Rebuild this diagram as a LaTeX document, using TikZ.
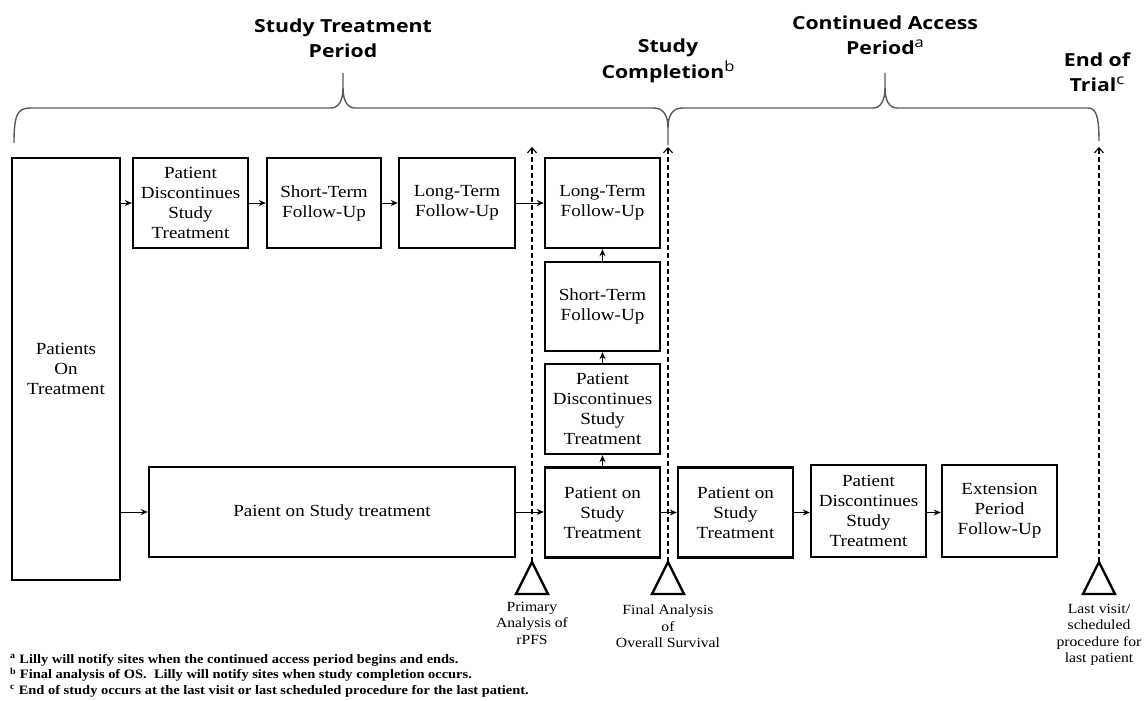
\documentclass[tikz,border=0pt]{standalone}
\usepackage{fontspec}
\setmainfont{Liberation Serif}[FakeStretch=1.12]
\newfontfamily\hdfont{Open Sans}[FakeStretch=1.18]
\usetikzlibrary{arrows.meta}
\newcommand{\supl}[1]{\raisebox{7pt}{\mdseries\fontsize{14}{14}\selectfont #1}}
\begin{document}
\begin{tikzpicture}[x=1pt,y=-1pt,
 box/.style={draw, line width=2.4pt, inner sep=0pt, align=center, font=\fontsize{17}{20}\selectfont},
 arr/.style={line width=1pt, -{Stealth[length=7pt,width=6pt]}},
 dasharr/.style={line width=1.1pt, dash pattern=on 5pt off 3pt, -{Straight Barb[length=5pt,width=9pt]}},
 tri/.style={line width=2.4pt, line join=miter},
 brace/.style={line width=1.4pt, draw=black!65},
 hd/.style={font=\hdfont\bfseries\fontsize{18}{25}\selectfont, align=center, inner sep=0pt},
 lab/.style={font=\fontsize{14}{16.5}\selectfont, align=center, inner sep=0pt},
]
\useasboundingbox (0,0) rectangle (1144,701);

% boxes
\node[box, minimum width=108pt, minimum height=422pt] (pot) at (66,369) {Patients\\On\\Treatment};
\node[box, minimum width=115pt, minimum height=90pt] (pd1) at (190.5,203) {Patient\\Discontinues\\Study\\Treatment};
\node[box, minimum width=114pt, minimum height=90pt] (st1) at (324,203) {Short-Term\\Follow-Up};
\node[box, minimum width=116pt, minimum height=90pt] (lt1) at (457,203) {Long-Term\\Follow-Up};
\node[box, minimum width=115pt, minimum height=90pt] (lt2) at (602.5,203) {Long-Term\\Follow-Up};
\node[box, minimum width=115pt, minimum height=89pt] (st2) at (602.5,306.5) {Short-Term\\Follow-Up};
\node[box, minimum width=115pt, minimum height=90pt] (pd2) at (602.5,409) {Patient\\Discontinues\\Study\\Treatment};
\node[box, minimum width=115pt, minimum height=90pt] (ps2) at (602.5,512.5) {Patient on\\Study\\Treatment};
\node[box, minimum width=366pt, minimum height=90pt] (ps1) at (332,512) {Paient on Study treatment};
\node[box, minimum width=115pt, minimum height=90pt] (ps3) at (735.5,512.5) {Patient on\\Study\\Treatment};
\node[box, minimum width=115pt, minimum height=92pt] (pd3) at (868.5,511) {Patient\\Discontinues\\Study\\Treatment};
\node[box, minimum width=115pt, minimum height=92pt] (ext) at (999.5,511) {Extension\\Period\\Follow-Up};

% arrows
\draw[arr] (pot.east |- pd1.west) -- (pd1.west);
\draw[arr] (pd1) -- (st1);
\draw[arr] (st1) -- (lt1);
\draw[arr] (lt1) -- (lt2);
\draw[arr] (pot.east |- ps1.west) -- (ps1.west);
\draw[arr] (ps1.east) -- (ps1.east -| ps2.west);
\draw[arr] (ps2) -- (pd2);
\draw[arr] (pd2) -- (st2);
\draw[arr] (st2) -- (lt2);
\draw[arr] (ps2.east) -- (ps2.east -| ps3.west);
\draw[arr] (ps3.east) -- (ps3.east -| pd3.west);
\draw[arr] (pd3.east |- ps3.east) -- (ps3.east -| ext.west);

% milestones
\coordinate (t1) at (532,562); \coordinate (t1top) at (532,147);
\coordinate (t2) at (668,562); \coordinate (t2top) at (668,147);
\coordinate (t3) at (1099,562); \coordinate (t3top) at (1099,147);
\draw[dasharr] (t1) -- (t1top);
\draw[dasharr] (t2) -- (t2top);
\draw[dasharr] (t3) -- (t3top);
\draw[tri] (t1) -- ++(16,32) -- ++(-32,0) -- cycle;
\draw[tri] (t2) -- ++(16,32) -- ++(-32,0) -- cycle;
\draw[tri] (t3) -- ++(16,32) -- ++(-32,0) -- cycle;
\node[lab, anchor=north] (l1) at (532,602) {Primary\\Analysis of\\rPFS};
\node[lab, anchor=north] (l2) at (668,605) {Final Analysis\\of\\Overall Survival};
\node[lab, anchor=north] (l3) at (1099,604) {Last visit/\\scheduled\\procedure for\\last patient};

% braces
\draw[brace] (14,143) .. controls (14,116) and (17,108) .. (30,108) -- (331,108)
  .. controls (339,108) and (343,100) .. (343,88) -- (343,73);
\draw[brace] (343,88) .. controls (343,100) and (347,108) .. (355,108) -- (654,108)
  .. controls (663,108) and (668,115) .. (668,128) -- (668,145);
\draw[brace] (668,128) .. controls (668,115) and (673,108) .. (682,108) -- (873,108)
  .. controls (881,108) and (885,100) .. (885,88) -- (885,73);
\draw[brace] (885,88) .. controls (885,100) and (889,108) .. (897,108) -- (1088,108)
  .. controls (1096,108) and (1099,116) .. (1099,141);

% headings (anchor base = baseline of last line)
\node[hd, anchor=base] (h1) at (343,58) {Study Treatment\\Period};
\node[hd, anchor=base] (h2) at (668,78) {Study\\Completion\supl{b}};
\node[hd, anchor=base] (h3) at (885,55) {Continued Access\\Period\supl{a}};
\node[hd, anchor=base] (h4) at (1097,92) {End of\\Trial\supl{c}};

% footnotes
\node[font=\bfseries\fontsize{12.9}{15.5}\selectfont, align=left, anchor=base west, inner sep=0pt] (fn) at (10,694)
 {\textsuperscript{a} Lilly will notify sites when the continued access period begins and ends.\\
  \textsuperscript{b} Final analysis of OS.\ \ Lilly will notify sites when study completion occurs.\\
  \textsuperscript{c} End of study occurs at the last visit or last scheduled procedure for the last patient.};
\end{tikzpicture}
\end{document}
